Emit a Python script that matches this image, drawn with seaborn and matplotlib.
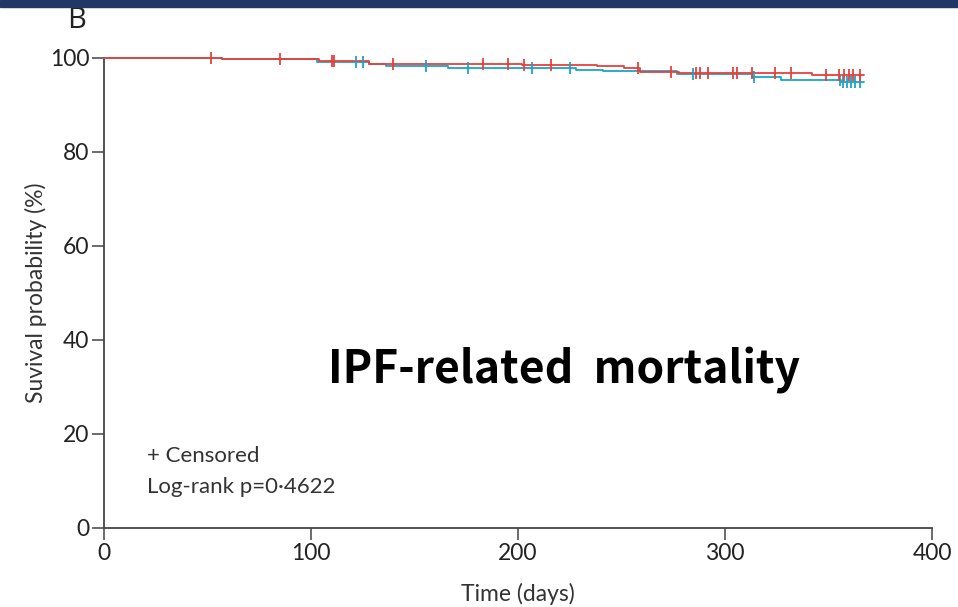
import numpy as np
import pandas as pd
import matplotlib
matplotlib.use("Agg")
import matplotlib.pyplot as plt
import seaborn as sns

# ---- data ----
red_times = [0, 57, 104, 128, 202, 238, 251, 259, 278, 342]
red_surv = [100, 99.7, 99.3, 98.8, 98.5, 98.2, 97.8, 97.1, 96.8, 96.4]
red_end = 367
red_censor = [51.5, 85, 110, 111, 139.5, 183, 195, 203, 216, 258, 274, 286, 288,
              292, 304, 306, 313, 324, 332, 349, 355, 357.5, 360, 362, 365]

blue_times = [0, 57, 103, 128, 136, 166, 228, 241, 277, 313, 327, 356]
blue_surv = [100, 99.7, 99.2, 98.7, 98.3, 97.9, 97.5, 97.2, 96.7, 96.0, 95.3, 94.8]
blue_end = 367
blue_censor = [121.6, 125, 155.5, 176, 207, 225, 284.5, 314, 355.5, 357, 359, 361, 363, 365]

x_ticks = [0, 100, 200, 300, 400]
y_ticks = [0, 20, 40, 60, 80, 100]

RED = "#e8403a"
BLUE = "#1aa5c8"

sns.set_style("ticks")
plt.rcParams["font.family"] = ["Lato", "DejaVu Sans"]

def step_frame(times, surv, end, name):
    t = list(times) + [end]
    s = list(surv) + [surv[-1]]
    return pd.DataFrame({"time": t, "surv": s, "group": name})

def censor_frame(times, surv, cens, name):
    idx = np.searchsorted(np.array(times), np.array(cens), side="right") - 1
    return pd.DataFrame({"time": cens, "surv": np.array(surv)[idx], "group": name})

curves = pd.concat([step_frame(blue_times, blue_surv, blue_end, "blue"),
                    step_frame(red_times, red_surv, red_end, "red")])
marks = pd.concat([censor_frame(blue_times, blue_surv, blue_censor, "blue"),
                   censor_frame(red_times, red_surv, red_censor, "red")])
pal = {"red": RED, "blue": BLUE}

fig = plt.figure(figsize=(9.58, 6.07), dpi=100)
ax = fig.add_axes([104/958, 1-528/607, (932-104)/958, (528-58)/607])

for g in ["blue", "red"]:
    sub = curves[curves.group == g]
    sns.lineplot(data=sub, x="time", y="surv", ax=ax, color=pal[g], lw=1.3,
                 drawstyle="steps-post", estimator=None, sort=False, legend=False,
                 clip_on=False, zorder=3)
    msub = marks[marks.group == g]
    sns.scatterplot(data=msub, x="time", y="surv", ax=ax, color=pal[g], marker="|",
                    s=80, linewidth=1.3, legend=False, clip_on=False, zorder=4)

ax.set_xlim(0, 400)
ax.set_ylim(0, 100)
ax.set_xticks(x_ticks)
ax.set_yticks(y_ticks)
ax.tick_params(axis="both", direction="out", length=8.5, width=1.1, colors="#444444",
               labelsize=16.5, labelcolor="#222222", pad=2)
for side in ["top", "right"]:
    ax.spines[side].set_visible(False)
for side in ["left", "bottom"]:
    ax.spines[side].set_color("#444444")
    ax.spines[side].set_linewidth(1.3)

ax.set_xlabel("Time (days)", fontsize=16.5, color="#333333", labelpad=14)
ax.set_ylabel("Suvival probability (%)", fontsize=16.5, color="#333333", labelpad=2)

ax.text(0.052, 0.153, "+ Censored", transform=ax.transAxes, fontsize=16,
        color="#333333", va="center", ha="left")
ax.text(0.052, 0.087, "Log-rank p=0\u00b74622", transform=ax.transAxes, fontsize=16,
        color="#333333", va="center", ha="left")

fig.text(564/958, 1-370/607, "IPF-related  mortality", fontsize=32, fontweight="bold",
         color="black", ha="center", va="center",
         family=["Noto Sans CJK KR", "DejaVu Sans"])

fig.text(77/958, 1-21/607, "B", fontsize=21, color="#222222", ha="center",
         va="center", family=["Open Sans", "DejaVu Sans"])

fig.patches.append(plt.Rectangle((0, 1-7/607), 1, 7/607, transform=fig.transFigure,
                                 color="#1f3864", zorder=10))

fig.savefig("out.png", dpi=100)
